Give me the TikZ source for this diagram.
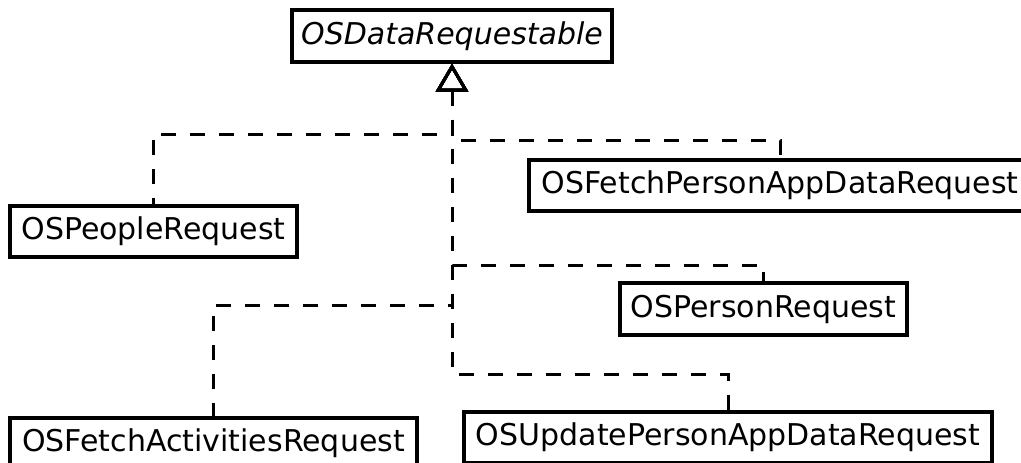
\documentclass[tikz,border=0pt]{standalone}
\usepackage{fontspec}
\setmainfont{DejaVu Sans}
\usetikzlibrary{positioning,arrows.meta}

\begin{document}
\begin{tikzpicture}[
  x=1pt, y=-1pt,
  font=\fontsize{30}{36}\selectfont,
  cls/.style={draw, line width=3.2pt, inner sep=0pt, align=center, minimum height=51pt},
  abstractcls/.style={cls, font=\fontsize{30}{36}\selectfont\itshape},
  inh/.style={{Triangle[open, length=28pt, width=32pt]}-, line width=3pt, dash pattern=on 15pt off 14pt}
]
\useasboundingbox (0,0) rectangle (1021,463);
\node[abstractcls, minimum width=320pt, minimum height=52pt] (base) at (452,36) {OSDataRequestable};
\node[cls, minimum width=287pt] (people) at (153.5,231.5) {OSPeopleRequest};
\node[cls, minimum width=502pt] (fetchperson) at (780,185.5) {OSFetchPersonAppDataRequest};
\node[cls, minimum width=287pt, minimum height=52pt] (person) at (763.5,309) {OSPersonRequest};
\node[cls, minimum width=407pt] (fetchact) at (213.5,443.5) {OSFetchActivitiesRequest};
\node[cls, minimum width=528pt] (update) at (728,437.5) {OSUpdatePersonAppDataRequest};
\coordinate (j1) at (452,134);
\coordinate (j2) at (452,140);
\coordinate (j3) at (452,265);
\coordinate (j4) at (452,305);
\coordinate (j5) at (452,374);
\draw[inh] (base.south) -- (j1) -| (people.north);
\draw[inh] (base.south) -- (j2) -| (fetchperson.north);
\draw[inh] (base.south) -- (j3) -| (person.north);
\draw[inh] (base.south) -- (j4) -| (fetchact.north);
\draw[inh] (base.south) -- (j5) -| (update.north);
\end{tikzpicture}
\end{document}
